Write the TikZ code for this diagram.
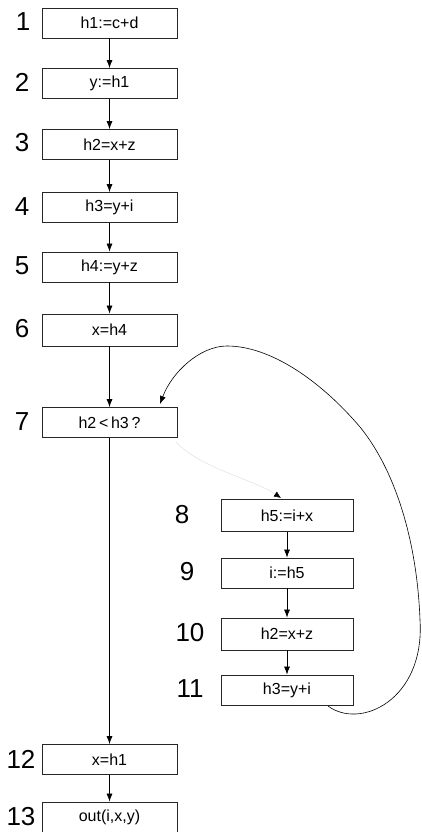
\documentclass[tikz,border=0pt]{standalone}
\usepackage{fontspec}
\setmainfont{Liberation Sans}
\usetikzlibrary{arrows.meta}
\begin{document}
\begin{tikzpicture}[x=1pt,y=-1pt,
  box/.style={draw=black!85,line width=0.8pt,minimum height=30pt,inner sep=0pt,font=\fontsize{16}{16}\selectfont},
  lbox/.style={box,minimum width=135pt},
  rbox/.style={box,minimum width=132pt},
  num/.style={font=\fontsize{26}{26}\selectfont,inner sep=0pt},
  arr/.style={-{Latex[length=8pt,width=6pt]},line width=0.7pt},
  loop/.style={-{Latex[length=8pt,width=6pt]},line width=0.6pt}]
\useasboundingbox (0,0) rectangle (421,832);
% left column
\node[lbox] (n1) at (109.5,23) {h1:=c+d};
\node[lbox] (n2) at (109.5,83.5) {y:=h1};
\node[lbox] (n3) at (109.5,144.5) {h2=x+z};
\node[lbox] (n4) at (109.5,207.5) {h3=y+i};
\node[lbox] (n5) at (109.5,267) {h4:=y+z};
\node[lbox, minimum height=32pt] (n6) at (109.5,330) {x=h4};
\node[lbox] (n7) at (109.5,422.5) {h2\,<\,h3\,?};
\node[lbox] (n12) at (109.5,759.5) {x=h1};
\node[lbox] (n13) at (109.5,817) {out(i,x,y)};
% right column
\node[rbox, minimum height=32pt] (n8) at (287,515.5) {h5:=i+x};
\node[rbox] (n9) at (287,573) {i:=h5};
\node[rbox, minimum height=32pt] (n10) at (287,634) {h2=x+z};
\node[rbox] (n11) at (287,690) {h3=y+i};
% labels
\node[num] (l1) at (23,22) {1};
\node[num] (l2) at (22,82) {2};
\node[num] (l3) at (22,143) {3};
\node[num] (l4) at (22,207) {4};
\node[num] (l5) at (22,266) {5};
\node[num] (l6) at (22,329) {6};
\node[num] (l7) at (22,422) {7};
\node[num] (l12) at (21,759) {12};
\node[num] (l13) at (21,817) {13};
\node[num] (l8) at (182,515) {8};
\node[num] (l9) at (187,572) {9};
\node[num] (l10) at (190,633) {10};
\node[num] (l11) at (190,689) {11};
% connectors
\draw[arr] (n1) -- (n2);
\draw[arr] (n2) -- (n3);
\draw[arr] (n3) -- (n4);
\draw[arr] (n4) -- (n5);
\draw[arr] (n5) -- (n6);
\draw[arr] (n6) -- (n7);
\draw[arr] (n7) -- (n12);
\draw[arr] (n12) -- (n13);
\draw[arr] (n8) -- (n9);
\draw[arr] (n9) -- (n10);
\draw[arr] (n10) -- (n11);
% faint branch into 8
\coordinate (b0) at (176,442);
\coordinate (b1) at (281,498);
\draw[black!12,line width=0.5pt,-{Latex[length=7pt,width=6pt,color=black]}] (b0) .. controls (200,468) and (255,480) .. (b1);
% loop back
\coordinate (s0) at (328,706);
\coordinate (e0) at (160,404);
\draw[loop] (s0) .. controls (360,730) and (425,700) .. (420,620)
  .. controls (417,540) and (395,470) .. (360,427)
  .. controls (320,380) and (270,346) .. (227,346)
  .. controls (200,346) and (172,372) .. (e0);
\end{tikzpicture}
\end{document}
